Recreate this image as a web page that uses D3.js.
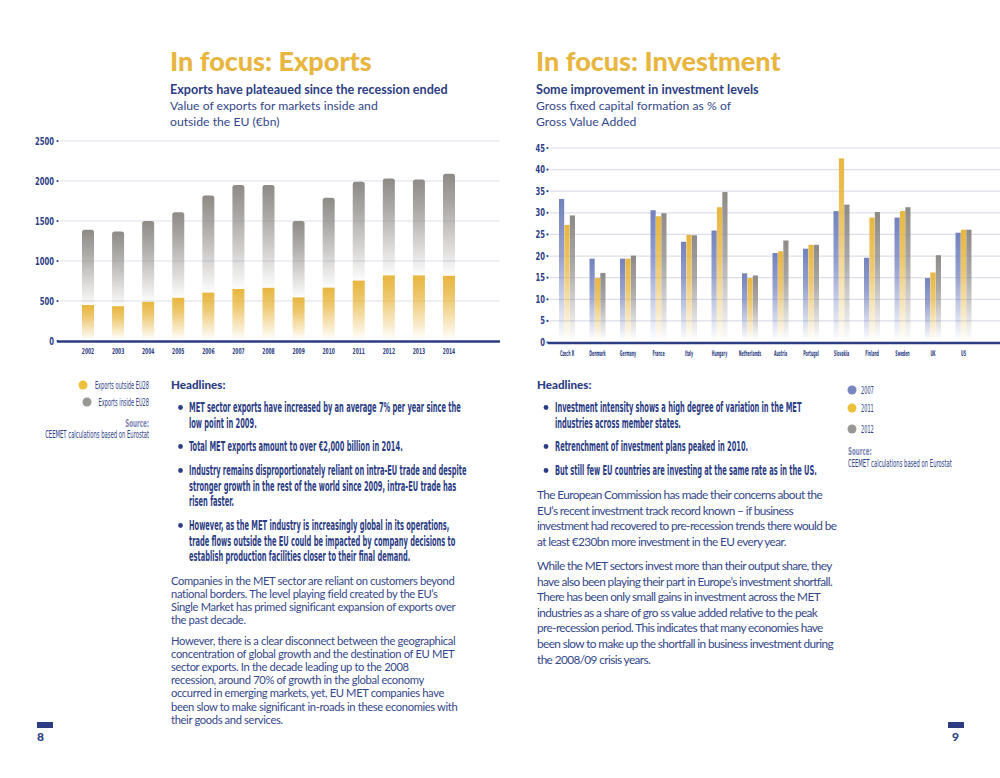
<!DOCTYPE html>
<html>
<head>
<meta charset="utf-8">
<script src="https://cdn.jsdelivr.net/npm/d3@7"></script>
<style>
  body { margin: 0; background: #fff; }
  svg { display: block; }
</style>
</head>
<body>
<div id="page"></div>
<script>
// Exports chart data (EUR bn)
const years = ["2002", "2003", "2004", "2005", "2006", "2007", "2008", "2009", "2010", "2011", "2012", "2013", "2014"];
const outsideEU = [450, 435, 490, 540, 605, 650, 665, 545, 667, 755, 820, 820, 815];
const insideEU = [940, 935, 1010, 1070, 1215, 1300, 1285, 955, 1125, 1235, 1210, 1200, 1275];
const exportTicks = [0, 500, 1000, 1500, 2000, 2500];

// Investment chart data (% of GVA)
const countries = ["Czech R", "Denmark", "Germany", "France", "Italy", "Hungary", "Netherlands", "Austria", "Portugal", "Slovakia", "Finland", "Sweden", "UK", "US"];
const inv2007 = [33.2, 19.4, 19.4, 30.6, 23.3, 25.9, 16.0, 20.7, 21.7, 30.4, 19.6, 28.9, 14.9, 25.4];
const inv2011 = [27.2, 14.9, 19.4, 29.2, 24.9, 31.3, 14.9, 21.1, 22.6, 42.6, 28.9, 30.4, 16.2, 26.1];
const inv2012 = [29.4, 16.1, 20.1, 29.9, 24.8, 34.8, 15.5, 23.6, 22.6, 31.9, 30.2, 31.3, 20.2, 26.1];
const invYears = ["2007", "2011", "2012"];
const invTicks = [0, 5, 10, 15, 20, 25, 30, 35, 40, 45];

const NAVY = "#2c3d84";
const TEXT = "#34478a";
const YELLOW = "#e8b63f";
const GREY = "#8e8b87";
const BLUE = "#7382bd";
const GRID = "#dcdfea";
const COND = "'Liberation Sans Narrow', 'DejaVu Sans Condensed', sans-serif";
const SANS = "Lato, 'Open Sans', sans-serif";
const HEAVY = "'Lato Black', Lato, 'Open Sans', sans-serif";

var svg = d3.select("#page").append("svg")
  .attr("width", 1000).attr("height", 778);

var defs = svg.append("defs");

// vertical fade-to-white gradient for the bars
function fade(id, color, start) {
  var g = defs.append("linearGradient").attr("id", id)
    .attr("x1", 0).attr("y1", 0).attr("x2", 0).attr("y2", 1);
  g.append("stop").attr("offset", "0%").attr("stop-color", color);
  g.append("stop").attr("offset", start).attr("stop-color", color).attr("stop-opacity", 0.75);
  g.append("stop").attr("offset", "100%").attr("stop-color", color).attr("stop-opacity", 0.02);
}
fade("gYellow", YELLOW, "35%");
fade("gGrey", GREY, "30%");
fade("gBlue", BLUE, "40%");
fade("gYellow2", YELLOW, "40%");
fade("gGrey2", GREY, "40%");

// condensed text helper: squeeze horizontally
function ctext(parent, x, y, str, size, sx, anchor, color, weight) {
  return parent.append("text")
    .attr("transform", `translate(${x},${y}) scale(${sx},1)`)
    .attr("text-anchor", anchor || "start")
    .style("font-family", COND)
    .style("font-size", size + "px")
    .style("font-weight", weight || "bold")
    .attr("fill", color || NAVY)
    .text(str);
}

function stext(parent, x, y, str, size, color, weight, spacing, family) {
  return parent.append("text")
    .attr("x", x).attr("y", y)
    .style("font-family", family || SANS)
    .style("font-size", size + "px")
    .style("font-weight", weight || "normal")
    .style("letter-spacing", (spacing || 0) + "px")
    .attr("fill", color)
    .text(str);
}

// ---------- Left page: exports ----------
var left = svg.append("g");

stext(left, 170, 71, "In focus: Exports", 27, YELLOW, 900, 0, HEAVY);
stext(left, 170, 94, "Exports have plateaued since the recession ended", 12.6, NAVY, "bold");
stext(left, 170, 110, "Value of exports for markets inside and", 12.2, TEXT);
stext(left, 170, 126, "outside the EU (€bn)", 12.2, TEXT);

var xE = d3.scalePoint().domain(years).range([88, 449]);
var yE = d3.scaleLinear().domain([0, 2500]).range([341, 141]);

// grid + tick labels
exportTicks.forEach(function (t) {
  if (t > 0) {
    left.append("line").attr("x1", 60).attr("x2", 500)
      .attr("y1", yE(t)).attr("y2", yE(t))
      .attr("stroke", GRID).attr("stroke-width", 1.2);
  }
  left.append("circle").attr("cx", 57.5).attr("cy", yE(t)).attr("r", 1.1).attr("fill", NAVY);
  ctext(left, 54, yE(t) + 3.5, t, 10.5, 0.72, "end");
});

var stackE = d3.stack().keys(["out", "in"])(
  years.map((y, i) => ({ year: y, out: outsideEU[i], in: insideEU[i] }))
);
var bw = 12;
left.selectAll("rect.grey").data(stackE[1]).enter().append("rect")
  .attr("x", d => xE(d.data.year) - bw / 2)
  .attr("y", d => yE(d[1]))
  .attr("width", bw)
  .attr("height", d => yE(d[0]) - yE(d[1]))
  .attr("rx", 2.5)
  .attr("fill", "url(#gGrey)");
left.selectAll("rect.yel").data(stackE[0]).enter().append("rect")
  .attr("x", d => xE(d.data.year) - bw / 2)
  .attr("y", d => yE(d[1]))
  .attr("width", bw)
  .attr("height", d => yE(d[0]) - yE(d[1]) - 2)
  .attr("fill", "url(#gYellow)");

left.append("line").attr("x1", 57).attr("x2", 500)
  .attr("y1", 341.5).attr("y2", 341.5)
  .attr("stroke", NAVY).attr("stroke-width", 2.6);

years.forEach(function (y) {
  ctext(left, xE(y), 354, y, 8, 0.62, "middle");
});

// legend
left.append("circle").attr("cx", 83).attr("cy", 385).attr("r", 4.5).attr("fill", "#ecc23c");
ctext(left, 149, 389, "Exports outside EU28", 10, 0.56, "end", NAVY, "normal");
left.append("circle").attr("cx", 87).attr("cy", 402).attr("r", 4.5).attr("fill", "#9a9893");
ctext(left, 149, 406, "Exports inside EU28", 10, 0.56, "end", NAVY, "normal");
ctext(left, 149, 427, "Source:", 10, 0.62, "end", "#7d86b4", "bold");
ctext(left, 149, 438, "CEEMET calculations based on Eurostat", 10, 0.585, "end", NAVY, "normal");

// headlines
stext(left, 171, 389, "Headlines:", 11.6, NAVY, 900, 0, HEAVY);
var leftBullets = [
  { y: 412, lines: ["MET sector exports have increased by an average 7% per year since the", "low point in 2009."] },
  { y: 451, lines: ["Total MET exports amount to over €2,000 billion in 2014."] },
  { y: 475, lines: ["Industry remains disproportionately reliant on intra-EU trade and despite", "stronger growth in the rest of the world since 2009, intra-EU trade has", "risen faster."] },
  { y: 530, lines: ["However, as the MET industry is increasingly global in its operations,", "trade flows outside the EU could be impacted by company decisions to", "establish production facilities closer to their final demand."] }
];
leftBullets.forEach(function (b) {
  left.append("circle").attr("cx", 180.5).attr("cy", b.y - 4.5).attr("r", 2.4).attr("fill", NAVY);
  b.lines.forEach(function (l, i) {
    ctext(left, 189, b.y + i * 15.7, l, 13.5, 0.55, "start");
  });
});

var leftParas = [
  { y: 585, lines: ["Companies in the MET sector are reliant on customers beyond", "national borders. The level playing field created by the EU’s", "Single Market has primed significant expansion of exports over", "the past decade."] },
  { y: 645, lines: ["However, there is a clear disconnect between the geographical", "concentration of global growth and the destination of EU MET", "sector exports. In the decade leading up to the 2008", "recession, around 70% of growth in the global economy", "occurred in emerging markets, yet, EU MET companies have", "been slow to make significant in-roads in these economies with", "their goods and services."] }
];
leftParas.forEach(function (p) {
  p.lines.forEach(function (l, i) {
    stext(left, 171, p.y + i * 13.1, l, 11.2, TEXT, "normal", -0.36);
  });
});

left.append("rect").attr("x", 37).attr("y", 722).attr("width", 16).attr("height", 6).attr("fill", NAVY);
stext(left, 37, 741, "8", 12, NAVY, 900, 0, HEAVY);

// ---------- Right page: investment ----------
var right = svg.append("g");

stext(right, 536, 71, "In focus: Investment", 27, YELLOW, 900, 0, HEAVY);
stext(right, 536, 94, "Some improvement in investment levels", 12.6, NAVY, "bold");
stext(right, 536, 110, "Gross fixed capital formation as % of", 12.2, TEXT);
stext(right, 536, 126, "Gross Value Added", 12.2, TEXT);

var xI = d3.scalePoint().domain(countries).range([567, 963.5]);
var xSub = d3.scaleBand().domain(invYears).range([-8, 8]).paddingInner(0.04);
var yI = d3.scaleLinear().domain([0, 45]).range([342.5, 148]);

invTicks.forEach(function (t) {
  if (t > 0) {
    right.append("line").attr("x1", 550).attr("x2", 1000)
      .attr("y1", yI(t)).attr("y2", yI(t))
      .attr("stroke", GRID).attr("stroke-width", 1.2);
  }
  right.append("circle").attr("cx", 547.5).attr("cy", yI(t)).attr("r", 1.1).attr("fill", NAVY);
  ctext(right, 545, yI(t) + 3.5, t, 10.5, 0.72, "end");
});

var invSeries = [
  { year: "2007", values: inv2007, fill: "url(#gBlue)" },
  { year: "2011", values: inv2011, fill: "url(#gYellow2)" },
  { year: "2012", values: inv2012, fill: "url(#gGrey2)" }
];
invSeries.forEach(function (s) {
  right.selectAll(null).data(s.values).enter().append("rect")
    .attr("x", (d, i) => xI(countries[i]) + xSub(s.year))
    .attr("y", d => yI(d))
    .attr("width", xSub.bandwidth())
    .attr("height", d => yI(0) - yI(d) - 3)
    .attr("fill", s.fill);
});

right.append("line").attr("x1", 548).attr("x2", 1000)
  .attr("y1", 343).attr("y2", 343)
  .attr("stroke", NAVY).attr("stroke-width", 2.6);

countries.forEach(function (c) {
  ctext(right, xI(c), 356, c, 7.8, 0.46, "middle");
});

// legend
var legColors = ["#7a86bf", "#ecc23c", "#9a9893"];
var legY = [390, 408, 429];
invYears.forEach(function (y, i) {
  right.append("circle").attr("cx", 852).attr("cy", legY[i]).attr("r", 4.5).attr("fill", legColors[i]);
  ctext(right, 861, legY[i] + 4, y, 10, 0.56, "start", NAVY, "normal");
});
ctext(right, 848, 455, "Source:", 10, 0.62, "start", "#7d86b4", "bold");
ctext(right, 848, 467, "CEEMET calculations based on Eurostat", 10, 0.585, "start", NAVY, "normal");

stext(right, 537, 389, "Headlines:", 11.6, NAVY, 900, 0, HEAVY);
var rightBullets = [
  { y: 412, lines: ["Investment intensity shows a high degree of variation in the MET", "industries across member states."] },
  { y: 451, lines: ["Retrenchment of investment plans peaked in 2010."] },
  { y: 475, lines: ["But still few EU countries are investing at the same rate as in the US."] }
];
rightBullets.forEach(function (b) {
  right.append("circle").attr("cx", 546).attr("cy", b.y - 4.5).attr("r", 2.4).attr("fill", NAVY);
  b.lines.forEach(function (l, i) {
    ctext(right, 555, b.y + i * 15.7, l, 13.5, 0.55, "start");
  });
});

var rightParas = [
  { y: 499, lines: ["The European Commission has made their concerns about the", "EU’s recent investment track record known – if business", "investment had recovered to pre-recession trends there would be", "at least €230bn more investment in the EU every year."] },
  { y: 570, lines: ["While the MET sectors invest more than their output share, they", "have also been playing their part in Europe’s investment shortfall.", "There has been only small gains in investment across the MET", "industries as a share of gro ss value added relative to the peak", "pre-recession period. This indicates that many economies have", "been slow to make up the shortfall in business investment during", "the 2008/09 crisis years."] }
];
rightParas.forEach(function (p) {
  p.lines.forEach(function (l, i) {
    stext(right, 537, p.y + i * 15.6, l, 11.8, TEXT, "normal", -0.6);
  });
});

right.append("rect").attr("x", 948).attr("y", 722).attr("width", 16).attr("height", 6).attr("fill", NAVY);
stext(right, 952, 741, "9", 12, NAVY, 900, 0, HEAVY);
</script>
</body>
</html>
